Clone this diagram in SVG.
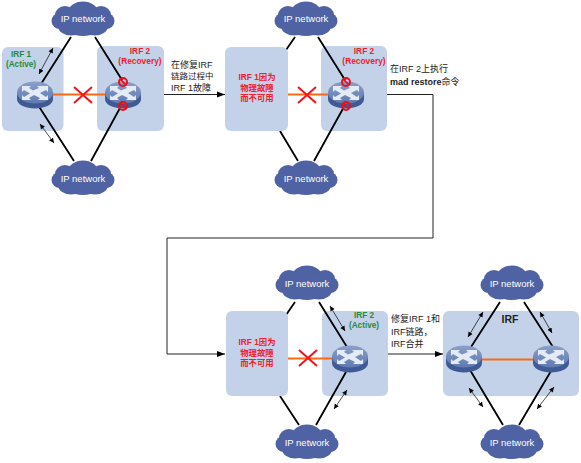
<svg xmlns="http://www.w3.org/2000/svg" width="581" height="463" viewBox="0 0 581 463">
<style>
text{font-family:"Liberation Sans","Noto Sans CJK SC",sans-serif;font-size:9px;fill:#222}
.b{font-weight:bold}
.r{fill:#f0202c;font-weight:bold;text-anchor:middle;font-size:8.400px}
.g{fill:#1f8a3c;font-weight:bold;text-anchor:middle;font-size:8.200px}
.c{fill:#fff;font-size:9.500px;text-anchor:middle}
.panel{fill:#c3d2e9}
.l{stroke:#000;stroke-width:1.800;fill:none}
.o{stroke:#f96a14;stroke-width:2;fill:none}
.a{stroke:#000;stroke-width:.7;fill:none;marker-start:url(#ms);marker-end:url(#me)}
.f{stroke:#222;stroke-width:1;fill:none;marker-end:url(#big)}
.x{stroke:#f5141e;stroke-width:2;fill:none}
</style>
<defs>
<marker id="me" markerUnits="userSpaceOnUse" markerWidth="6" markerHeight="6" refX="5" refY="3" orient="auto"><path d="M0 .6L5 3L0 5.400z" fill="#000"/></marker>
<marker id="ms" markerUnits="userSpaceOnUse" markerWidth="6" markerHeight="6" refX="0" refY="3" orient="auto"><path d="M5 .6L0 3L5 5.400z" fill="#000"/></marker>
<marker id="big" markerUnits="userSpaceOnUse" markerWidth="9" markerHeight="8" refX="8" refY="4" orient="auto"><path d="M0 1L8 4L0 7z" fill="#000"/></marker>
<linearGradient id="top" x1="0" y1="0" x2="0" y2="1"><stop offset="0" stop-color="#8ba0ca"/><stop offset="1" stop-color="#5f7ab0"/></linearGradient>
<symbol id="cl" overflow="visible"><g fill="#4f62a3">
<ellipse cx="0" cy="-6" rx="15" ry="11.500"/><ellipse cx="-18" cy="-4" rx="10" ry="9"/><ellipse cx="18" cy="-4" rx="10" ry="9"/>
<ellipse cx="-23" cy="2" rx="8.500" ry="8"/><ellipse cx="23" cy="2" rx="8.500" ry="8"/>
<ellipse cx="-12" cy="7" rx="13" ry="9.500"/><ellipse cx="12" cy="7" rx="13" ry="9.500"/><ellipse cx="0" cy="3" rx="20" ry="14"/></g></symbol>
<symbol id="sw" overflow="visible">
<path d="M-18 -2V5C-18 11 -9 14.500 0 14.500S18 11 18 5V-2z" fill="#3f5a94"/>
<ellipse cx="0" cy="-1.500" rx="18" ry="11" fill="url(#top)"/>
<path d="M-13 -8H-4L-6 -6L-2 -3.500L4 -6L2 -8H13V-2L11 -4L5 -1L11 3L13 1V6H3L5 4L-1 1L-6 4L-4 6H-13V1L-11 3L-5 -.5L-11 -4L-13 -2z" fill="#e4ebf5"/>
</symbol>
<symbol id="no" overflow="visible"><circle r="4" fill="none" stroke="#e8101c" stroke-width="2"/><path d="M-2.800 -2.800L2.800 2.800" stroke="#e8101c" stroke-width="1.800"/></symbol>
<symbol id="xm" overflow="visible"><path class="x" d="M-9 -8L9 8M9 -8L-9 8"/></symbol>
</defs>

<g id="connectors">
<path class="l" d="M295 37L286 50M280 131L298 161"/>
<path class="l" d="M295 302L286 315M280 396L299 425"/>
<path class="f" d="M164 94.500H225"/>
<path class="f" d="M387 94.500H433V238H167V354H225"/>
<path class="f" d="M388 354H443"/>
</g>

<g id="panels">
<rect id="p1" class="panel" x="2" y="47" width="61.500" height="84" rx="6"/>
<rect id="p2" class="panel" x="97" y="46" width="67" height="85" rx="6"/>
<rect id="p3" class="panel" x="225" y="47" width="63" height="84" rx="6"/>
<rect id="p4" class="panel" x="321" y="46" width="66" height="85" rx="6"/>
<rect id="p5" class="panel" x="226" y="311" width="62" height="85" rx="6"/>
<rect id="p6" class="panel" x="322" y="311" width="66" height="85" rx="6"/>
<rect id="p7" class="panel" x="443" y="311" width="136" height="85" rx="6"/>
</g>

<g id="links">
<path class="l" d="M71 37L41 84M95 37L122 80M38 105L74 161M120 108L91 161"/>
<path class="l" d="M318 37L345 80M345 105L314 161"/>
<path class="l" d="M319 302L347 347M346 372L316 425"/>
<path class="l" d="M500 302L471 347M524 302L553 347M470 370L503 425M551 371L519 425"/>
<path class="o" d="M52 94.500H110M288 94.500H332M288 358.500H335M482 359.500H537"/>
<path class="a" d="M53 48L39 74"/><path class="a" d="M40 124L54 143"/>
<path class="a" d="M330 306L345 331"/><path class="a" d="M347 390L334 409"/>
<path class="a" d="M483 312L468 337"/><path class="a" d="M540 312L552 333"/>
<path class="a" d="M469 388L483 407"/><path class="a" d="M554 387L537 409"/>
<use href="#xm" x="83" y="95"/><use href="#xm" x="307" y="95"/><use href="#xm" x="308" y="358"/>
</g>

<g id="cloud1"><use href="#cl" x="83" y="19"/><text class="c" x="83" y="22">IP network</text></g>
<g id="cloud2"><use href="#cl" x="83" y="178"/><text class="c" x="83" y="182">IP network</text></g>
<g id="cloud3"><use href="#cl" x="306" y="19"/><text class="c" x="306" y="22">IP network</text></g>
<g id="cloud4"><use href="#cl" x="306" y="178"/><text class="c" x="306" y="182">IP network</text></g>
<g id="cloud5"><use href="#cl" x="307" y="283"/><text class="c" x="307" y="287">IP network</text></g>
<g id="cloud6"><use href="#cl" x="307" y="442"/><text class="c" x="307" y="446">IP network</text></g>
<g id="cloud7"><use href="#cl" x="512" y="283"/><text class="c" x="512" y="287">IP network</text></g>
<g id="cloud8"><use href="#cl" x="512" y="442"/><text class="c" x="512" y="446">IP network</text></g>

<g id="switch1"><use href="#sw" x="35" y="94"/></g>
<g id="switch2"><use href="#sw" x="123" y="94"/><use href="#no" x="123" y="82"/><use href="#no" x="123" y="106"/></g>
<g id="switch3"><use href="#sw" x="346" y="94"/><use href="#no" x="346" y="82"/><use href="#no" x="346" y="106"/></g>
<g id="switch4"><use href="#sw" x="350" y="358"/></g>
<g id="switch5"><use href="#sw" x="464" y="358"/></g>
<g id="switch6"><use href="#sw" x="551" y="358"/></g>

<g id="labels">
<text class="g" x="21" y="57">IRF 1</text><text class="g" x="21" y="67">(Active)</text>
<text class="r" x="140" y="54">IRF 2</text><text class="r" x="140" y="64">(Recovery)</text>
<text class="r" x="364" y="54">IRF 2</text><text class="r" x="364" y="64">(Recovery)</text>
<text class="g" x="364" y="318">IRF 2</text><text class="g" x="364" y="328">(Active)</text>
<text class="r" x="257" y="80">IRF 1因为</text><text class="r" x="257" y="90.500">物理故障</text><text class="r" x="257" y="101">而不可用</text>
<text class="r" x="257" y="345">IRF 1因为</text><text class="r" x="257" y="355.500">物理故障</text><text class="r" x="257" y="366">而不可用</text>
<text x="171" y="67.500">在修复IRF</text><text x="171" y="79" style="font-size:8.500px">链路过程中</text><text x="171" y="91">IRF 1故障</text>
<text x="390" y="72">在IRF 2上执行</text><text x="390" y="85"><tspan class="b">mad restore</tspan>命令</text>
<text x="391" y="322">修复IRF 1和</text><text x="391" y="335">IRF链路，</text><text x="391" y="347">IRF合并</text>
<text class="b" x="510" y="323" text-anchor="middle" style="font-size:10.500px">IRF</text>
</g>
</svg>
